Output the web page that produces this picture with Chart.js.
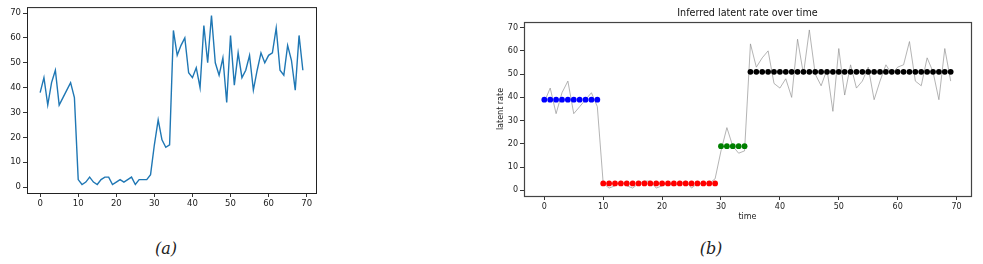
<!DOCTYPE html>
<html>
<head>
<meta charset="utf-8">
<script src="https://cdn.jsdelivr.net/npm/chart.js@4/dist/chart.umd.min.js"></script>
<style>
  body { margin: 0; background: #fff; width: 983px; height: 264px; overflow: hidden; position: relative; }
  canvas { position: absolute; }
  .caption { position: absolute; font-family: "DejaVu Serif", "Liberation Serif", serif; font-style: italic; font-size: 16px; color: #222; transform: translateX(-50%); }
</style>
</head>
<body>
<canvas id="countChart" width="330" height="215" style="left:0;top:0"></canvas>
<canvas id="rateChart" width="493" height="230" style="left:490px;top:0"></canvas>
<div class="caption" style="left:166px;top:239px">(a)</div>
<div class="caption" style="left:711px;top:239px">(b)</div>
<script>
// observed counts per time step
var counts = [38, 44, 33, 42, 47, 33, 36, 39, 42, 36,
	3, 1, 2, 4, 2, 1, 3, 4, 4, 1,
	2, 3, 2, 3, 4, 1, 3, 3, 3, 5,
	17, 27, 19, 16, 17, 63, 53, 57, 60, 46,
	44, 48, 40, 65, 50, 69, 50, 45, 52, 34,
	61, 41, 54, 44, 47, 53, 39, 47, 54, 50,
	53, 54, 64, 47, 45, 57, 51, 39, 61, 47];

// inferred latent rate per time step
var inferredRate = [39, 39, 39, 39, 39, 39, 39, 39, 39, 39,
	3, 3, 3, 3, 3, 3, 3, 3, 3, 3,
	3, 3, 3, 3, 3, 3, 3, 3, 3, 3,
	19, 19, 19, 19, 19, 51, 51, 51, 51, 51,
	51, 51, 51, 51, 51, 51, 51, 51, 51, 51,
	51, 51, 51, 51, 51, 51, 51, 51, 51, 51,
	51, 51, 51, 51, 51, 51, 51, 51, 51, 51];

// segments of the rate (first index of each) and their colours
var segmentStarts = [0, 10, 30, 35];
var segmentColors = ['#0000ff', '#ff0000', '#008000', '#000000'];

var tickValues = [0, 10, 20, 30, 40, 50, 60, 70];

var countPoints = counts.map(function(v, i) { return {x: i, y: v}; });
var ratePoints = inferredRate.map(function(v, i) { return {x: i, y: v}; });

function segmentColor(i) {
	var c = segmentColors[0];
	for (var s = 0; s < segmentStarts.length; s++) {
		if (i >= segmentStarts[s]) {
			c = segmentColors[s];
		}
	}
	return c;
}

// draw all four spines like matplotlib
var boxPlugin = {
	id: 'box',
	afterDraw: function(chart, args, opts) {
		var a = chart.chartArea;
		var ctx = chart.ctx;
		ctx.save();
		ctx.strokeStyle = opts.color || '#000';
		ctx.lineWidth = opts.width || 1;
		ctx.strokeRect(a.left + 0.5, a.top + 0.5, a.right - a.left, a.bottom - a.top);
		ctx.restore();
	}
};

function axisOpts(min, max, fontSize, extra) {
	var o = {
		type: 'linear',
		min: min,
		max: max,
		afterBuildTicks: function(scale) {
			scale.ticks = tickValues.map(function(v) { return {value: v}; });
		},
		grid: { display: true, drawOnChartArea: false, drawTicks: true, tickLength: 4, color: '#000', lineWidth: 0.8 },
		border: { display: false },
		ticks: { color: '#222', font: { family: 'DejaVu Sans', size: fontSize }, padding: 2, maxRotation: 0, autoSkip: false }
	};
	for (var k in extra) {
		o[k] = extra[k];
	}
	return o;
}

Chart.defaults.font.family = 'DejaVu Sans';

new Chart(document.getElementById('countChart').getContext('2d'), {
	type: 'line',
	data: {
		datasets: [{
			data: countPoints,
			borderColor: '#1f77b4',
			borderWidth: 1.4,
			pointRadius: 0,
			tension: 0
		}]
	},
	options: {
		responsive: false,
		animation: false,
		layout: { padding: { top: 5, right: 14, left: 0, bottom: 0 } },
		plugins: { legend: { display: false }, tooltip: { enabled: false }, box: { color: '#222', width: 1 } },
		scales: {
			x: axisOpts(-3.45, 72.45, 8.5, { afterFit: function(s) { s.height = 22; } }),
			y: axisOpts(-2.4, 72.4, 8.5, { afterFit: function(s) { s.width = 27; } })
		}
	},
	plugins: [boxPlugin]
});

new Chart(document.getElementById('rateChart').getContext('2d'), {
	type: 'line',
	data: {
		datasets: [{
			data: ratePoints,
			showLine: false,
			pointRadius: 2.9,
			pointBorderWidth: 0,
			pointBackgroundColor: function(ctx) { return segmentColor(ctx.dataIndex); },
			pointBorderColor: function(ctx) { return segmentColor(ctx.dataIndex); },
			order: 0
		}, {
			data: countPoints,
			borderColor: 'rgba(140,140,140,0.65)',
			borderWidth: 1,
			pointRadius: 0,
			tension: 0,
			order: 1
		}]
	},
	options: {
		responsive: false,
		animation: false,
		layout: { padding: { top: 0, right: 12, left: 0, bottom: 8 } },
		plugins: {
			legend: { display: false },
			tooltip: { enabled: false },
			title: {
				display: true,
				fullSize: false,
				text: 'Inferred latent rate over time',
				color: '#111',
				font: { family: 'DejaVu Sans', size: 9.6, weight: 'normal' },
				padding: { top: 8, bottom: 2.5 }
			},
			box: { color: '#444', width: 1.2 }
		},
		scales: {
			x: axisOpts(-3.45, 72.45, 8, {
				title: { display: true, text: 'time', color: '#222', font: { family: 'DejaVu Sans', size: 8 }, padding: { top: 1, bottom: 0 } },
				afterFit: function(s) { s.height = 26; }
			}),
			y: axisOpts(-2.4, 72.4, 8, {
				title: { display: true, text: 'latent rate', color: '#222', font: { family: 'DejaVu Sans', size: 8 }, padding: { top: 6, bottom: 0 } },
				afterFit: function(s) { s.width = 34; }
			})
		}
	},
	plugins: [boxPlugin]
});
</script>
</body>
</html>
